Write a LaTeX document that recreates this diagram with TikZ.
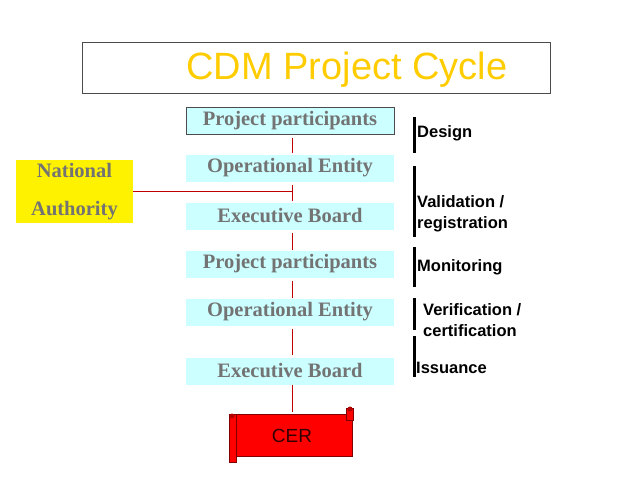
\documentclass[tikz,border=0pt]{standalone}
\usepackage{fontspec}
\setmainfont{Liberation Serif}
\setsansfont{Liberation Sans}
\begin{document}
\begin{tikzpicture}[x=1pt,y=-1pt,
 ent/.style={fill={rgb,255:red,204;green,255;blue,255},minimum width=208pt,minimum height=27pt,inner sep=0pt,text=gray!90!black,font=\bfseries\fontsize{20.5}{22}\selectfont},
 con/.style={draw=red!75!black,line width=0.8pt},
 bar/.style={line width=3pt},
 lab/.style={anchor=west,font=\sffamily\bfseries\fontsize{16.5}{21}\selectfont,align=left}]
\useasboundingbox (0,0) rectangle (638,479);
\node[draw=black!70,minimum width=468pt,minimum height=51pt] (title) at (316,67.5) {};
\node[text={rgb,255:red,255;green,204;blue,0},font=\sffamily\fontsize{38}{40}\selectfont] (tt) at (347,70) {CDM Project Cycle};
\node[ent,draw=black!70] (pp1) at (290,121) {Project participants};
\node[ent] (oe1) at (290,168) {Operational Entity};
\node[ent] (eb1) at (290,216) {Executive Board};
\node[ent] (pp2) at (290,264) {Project participants};
\node[ent] (oe2) at (290,312) {Operational Entity};
\node[ent] (eb2) at (290,371) {Executive Board};
\node[fill=yellow,minimum width=117pt,minimum height=63pt,inner sep=0pt,align=center,text=gray!90!black,font=\bfseries\fontsize{20.5}{38}\selectfont] (na) at (74.5,191.5) {National\\Authority};
% CER scroll
\fill[red,draw=red!50!black,line width=0.6pt] (234,414) rectangle (352,456);
\fill[red,draw=red!50!black,line width=0.6pt] (229,414) rectangle (236,462);
\fill[red,draw=red!50!black,line width=0.6pt] (346,408) rectangle (353,420);
\fill[red!70!black] (232,416) circle (2.5);
\fill[red!70!black] (350,409) circle (2.5);
\node[font=\sffamily\fontsize{19}{21}\selectfont,text=black!80!red] (cer) at (292,436) {CER};
\coordinate (cert) at (292,412);
\draw[con] (292,138) -- (292,153);
\draw[con] (na.east|-0,191) -- (292,191);
\draw[con] (292,185) -- (292,201);
\draw[con] (292,233) -- (292,250);
\draw[con] (292,281) -- (292,298);
\draw[con] (292,329) -- (292,355);
\draw[con] (eb2.south-|292,0) -- (cert);
\draw[bar] (414,117) -- (414,153);
\draw[bar] (414,166) -- (414,237);
\draw[bar] (414,247) -- (414,287);
\draw[bar] (414,298) -- (414,330);
\draw[bar] (414,336) -- (414,377);
\node[lab,inner sep=2pt] (d) at (415,133) {Design};
\node[lab,inner sep=2pt] (v) at (415,214) {Validation /\\registration};
\node[lab,inner sep=2pt] (m) at (415,267) {Monitoring};
\node[lab,inner sep=2pt] (vc) at (421,320) {Verification /\\certification};
\node[lab,inner sep=2pt] (i) at (414,368) {Issuance};
\end{tikzpicture}
\end{document}
